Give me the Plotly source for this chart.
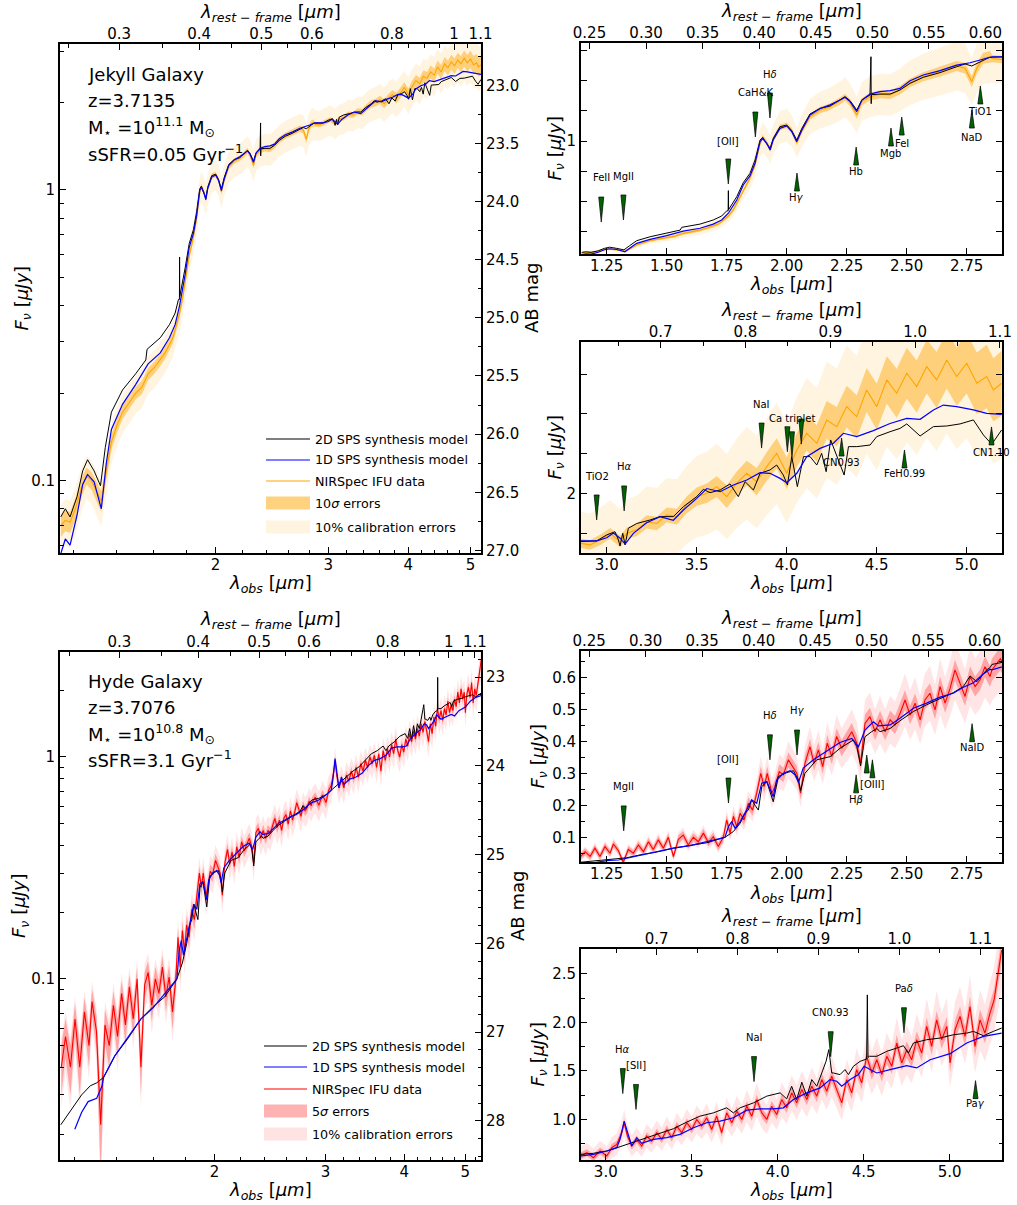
import math
import plotly.graph_objects as go

W, H = 1017, 1205
FONT = "DejaVu Sans"

# ------------------------------------------------------------------ data
JEK_Z = 3.7135
HYDE_Z = 3.7076

JEK_INFO = ["Jekyll Galaxy", "z=3.7135", "M<sub>⋆</sub> =10<sup>11.1</sup> M<sub>⊙</sub>",
            "sSFR=0.05 Gyr<sup>−1</sup>"]
HYDE_INFO = ["Hyde Galaxy", "z=3.7076", "M<sub>⋆</sub> =10<sup>10.8</sup> M<sub>⊙</sub>",
             "sSFR=3.1 Gyr<sup>−1</sup>"]

JEK_LEGEND = ["2D SPS synthesis model", "1D SPS synthesis model", "NIRSpec IFU data",
              "10<i>σ</i> errors", "10% calibration errors"]
HYDE_LEGEND = ["2D SPS synthesis model", "1D SPS synthesis model", "NIRSpec IFU data",
               "5<i>σ</i> errors", "10% calibration errors"]

# Jekyll: 2D SPS model (black)
JEK_2D_WL = [1.146, 1.165, 1.185, 1.215, 1.240, 1.262, 1.292, 1.322, 1.345, 1.375,
             1.431, 1.500, 1.556, 1.563, 1.639, 1.694, 1.729, 1.750, 1.756, 1.757,
             1.758, 1.792, 1.819, 1.847, 1.868, 1.889, 1.900, 1.917, 1.931, 1.944,
             1.972, 2.000, 2.021, 2.042, 2.063, 2.097, 2.139, 2.181, 2.222, 2.243,
             2.264, 2.292, 2.313, 2.347, 2.351, 2.352, 2.353, 2.389, 2.431, 2.472,
             2.514, 2.569, 2.639, 2.708, 2.743, 2.771, 2.792, 2.819, 2.845,
             2.856, 2.944, 3.000, 3.046, 3.065, 3.074, 3.089, 3.102, 3.120, 3.167,
             3.241, 3.296, 3.370, 3.426, 3.500, 3.537, 3.574, 3.630, 3.685, 3.731,
             3.769, 3.815, 3.852, 3.907, 3.944, 3.981, 4.004, 4.028, 4.059, 4.093,
             4.130, 4.167, 4.194, 4.219, 4.244, 4.278, 4.319, 4.343, 4.389, 4.463,
             4.500, 4.574, 4.630, 4.667, 4.741, 4.815, 4.889, 4.963, 5.037, 5.093,
             5.139, 5.194]
JEK_2D_F = [0.075, 0.080, 0.075, 0.088, 0.108, 0.118, 0.108, 0.096, 0.130, 0.172,
            0.205, 0.233, 0.260, 0.283, 0.310, 0.344, 0.377, 0.420, 0.420, 0.588,
            0.430, 0.538, 0.654, 0.731, 0.842, 1.008, 1.030, 0.975, 0.940, 1.022,
            1.119, 1.133, 1.086, 1.008, 1.105, 1.224, 1.271, 1.291, 1.340, 1.368,
            1.335, 1.257, 1.340, 1.382, 1.700, 1.310, 1.385, 1.390, 1.390, 1.424,
            1.479, 1.529, 1.568, 1.617, 1.640, 1.623, 1.645, 1.673, 1.695,
            1.696, 1.700, 1.738, 1.758, 1.706, 1.668, 1.748, 1.675, 1.780, 1.810,
            1.832, 1.853, 1.853, 1.916, 1.979, 2.025, 2.004, 2.021, 2.059, 1.979,
            2.073, 2.021, 2.126, 2.147, 2.178, 2.115, 2.052, 2.231, 2.042, 2.231,
            2.231, 2.178, 2.252, 2.136, 2.336, 2.231, 2.115, 2.294, 2.294, 2.304,
            2.357, 2.388, 2.409, 2.437, 2.361, 2.420, 2.424, 2.437, 2.462, 2.367,
            2.309, 2.399]

# Jekyll: 1D SPS model (blue)
JEK_1D_WL = [1.146, 1.165, 1.185, 1.215, 1.240, 1.262, 1.292, 1.326, 1.350, 1.375,
             1.431, 1.500, 1.569, 1.639, 1.694, 1.729, 1.757, 1.792, 1.819, 1.847,
             1.868, 1.889, 1.900, 1.917, 1.931, 1.944, 1.972, 2.000, 2.021, 2.042,
             2.063, 2.097, 2.139, 2.181, 2.222, 2.243, 2.264, 2.292, 2.313, 2.347,
             2.389, 2.431, 2.472, 2.514, 2.569, 2.639, 2.708, 2.764, 2.806, 2.847,
             2.856, 2.944, 3.000, 3.037, 3.074, 3.102, 3.148, 3.222, 3.296, 3.370,
             3.426, 3.500, 3.556, 3.630, 3.704, 3.778, 3.852, 3.907, 3.963, 4.000,
             4.056, 4.111, 4.185, 4.259, 4.315, 4.389, 4.481, 4.574, 4.667, 4.741,
             4.815, 4.870, 4.944, 5.037, 5.111, 5.194]
JEK_1D_F = [0.056, 0.063, 0.060, 0.076, 0.097, 0.105, 0.099, 0.080, 0.115, 0.150,
            0.183, 0.214, 0.252, 0.275, 0.310, 0.344, 0.400, 0.510, 0.635, 0.710,
            0.815, 0.995, 1.020, 0.980, 0.925, 1.010, 1.105, 1.125, 1.078, 0.995,
            1.090, 1.216, 1.270, 1.300, 1.340, 1.363, 1.327, 1.244, 1.340, 1.390,
            1.410, 1.418, 1.437, 1.500, 1.548, 1.584, 1.630, 1.650, 1.673, 1.695,
            1.700, 1.700, 1.720, 1.750, 1.717, 1.680, 1.748, 1.815, 1.853, 1.830,
            1.895, 1.968, 2.030, 2.010, 2.052, 2.084, 2.130, 2.126, 2.094, 2.067,
            2.126, 2.231, 2.283, 2.315, 2.378, 2.357, 2.395, 2.440, 2.472, 2.466,
            2.525, 2.556, 2.546, 2.525, 2.504, 2.497]

# Jekyll: NIRSpec IFU data (orange) and 10-sigma error
JEK_DATA_WL = [1.146, 1.165, 1.185, 1.208, 1.235, 1.257, 1.280, 1.300, 1.326, 1.350,
               1.375, 1.403, 1.431, 1.465, 1.500, 1.535, 1.569, 1.605, 1.639, 1.667,
               1.694, 1.715, 1.729, 1.757, 1.778, 1.792, 1.819, 1.847, 1.868, 1.889,
               1.900, 1.917, 1.931, 1.944, 1.972, 2.000, 2.021, 2.042, 2.063, 2.097,
               2.139, 2.181, 2.222, 2.243, 2.264, 2.292, 2.313, 2.347, 2.389, 2.431,
               2.472, 2.514, 2.569, 2.639, 2.708, 2.743, 2.771, 2.792, 2.819, 2.847,
               2.856, 2.907, 2.963, 3.019, 3.074, 3.111, 3.167, 3.222, 3.278, 3.333,
               3.389, 3.444, 3.500, 3.556, 3.611, 3.667, 3.722, 3.778, 3.833, 3.889,
               3.944, 4.000, 4.056, 4.111, 4.167, 4.222, 4.278, 4.333, 4.389, 4.444,
               4.500, 4.556, 4.611, 4.667, 4.722, 4.778, 4.833, 4.889, 4.944, 5.000,
               5.056, 5.111, 5.148, 5.194]
JEK_DATA_F = [0.070, 0.073, 0.072, 0.080, 0.095, 0.104, 0.100, 0.093, 0.085, 0.108,
              0.136, 0.155, 0.172, 0.185, 0.200, 0.210, 0.233, 0.245, 0.260, 0.275,
              0.294, 0.310, 0.330, 0.377, 0.430, 0.482, 0.593, 0.690, 0.800, 0.980,
              1.030, 0.986, 0.930, 1.014, 1.114, 1.130, 1.086, 0.986, 1.086, 1.202,
              1.257, 1.285, 1.332, 1.363, 1.318, 1.216, 1.327, 1.368, 1.388, 1.382,
              1.424, 1.484, 1.534, 1.576, 1.623, 1.604, 1.493, 1.604, 1.687, 1.700,
              1.685, 1.675, 1.706, 1.748, 1.696, 1.748, 1.770, 1.820, 1.810, 1.864,
              1.853, 1.927, 1.979, 2.000, 2.042, 1.979, 2.063, 2.126, 2.073, 2.168,
              2.252, 2.126, 2.273, 2.378, 2.315, 2.462, 2.420, 2.546, 2.483, 2.651,
              2.546, 2.714, 2.630, 2.756, 2.672, 2.798, 2.714, 2.840, 2.735, 2.819,
              2.693, 2.735, 2.651, 2.693]
JEK_ERR10 = [0.006, 0.006, 0.006, 0.007, 0.007, 0.007, 0.007, 0.007, 0.007, 0.008,
             0.008, 0.009, 0.009, 0.010, 0.010, 0.011, 0.011, 0.012, 0.012, 0.013,
             0.013, 0.014, 0.014, 0.015, 0.016, 0.017, 0.018, 0.019, 0.020, 0.021,
             0.022, 0.022, 0.022, 0.023, 0.024, 0.024, 0.024, 0.024, 0.025, 0.026,
             0.027, 0.028, 0.029, 0.030, 0.030, 0.031, 0.031, 0.032, 0.033, 0.034,
             0.035, 0.036, 0.038, 0.040, 0.042, 0.043, 0.045, 0.045, 0.046, 0.047,
             0.030, 0.031, 0.033, 0.034, 0.036, 0.037, 0.039, 0.041, 0.043, 0.046,
             0.050, 0.053, 0.058, 0.061, 0.066, 0.071, 0.075, 0.079, 0.086, 0.090,
             0.094, 0.101, 0.105, 0.109, 0.116, 0.120, 0.124, 0.131, 0.135, 0.139,
             0.146, 0.150, 0.154, 0.161, 0.165, 0.169, 0.176, 0.180, 0.184, 0.190,
             0.194, 0.200, 0.199, 0.205]

# Hyde: 2D SPS model (black)
HYDE_2D_WL = [1.140, 1.165, 1.190, 1.230, 1.270, 1.300, 1.333, 1.389, 1.458, 1.528,
              1.597, 1.667, 1.743, 1.778, 1.806, 1.826, 1.840, 1.854, 1.868, 1.882,
              1.896, 1.917, 1.944, 1.965, 2.000, 2.028, 2.049, 2.058, 2.076, 2.125,
              2.181, 2.222, 2.278, 2.292, 2.308, 2.326, 2.354, 2.375, 2.389, 2.431,
              2.472, 2.528, 2.583, 2.639, 2.694, 2.736, 2.764, 2.792, 2.833, 2.847,
              2.855, 2.928, 3.006, 3.083, 3.161, 3.238, 3.316, 3.393, 3.471, 3.548,
              3.626, 3.703, 3.742, 3.781, 3.859, 3.936, 4.014, 4.052, 4.081, 4.110,
              4.140, 4.169, 4.198, 4.227, 4.256, 4.281, 4.297, 4.314, 4.324, 4.362,
              4.391, 4.411, 4.440, 4.479, 4.517, 4.521, 4.525, 4.533, 4.576, 4.634,
              4.692, 4.731, 4.760, 4.789, 4.866, 4.944, 5.021, 5.099, 5.138, 5.196,
              5.254, 5.302]
HYDE_2D_F = [0.022, 0.024, 0.026, 0.030, 0.033, 0.034, 0.036, 0.045, 0.054, 0.066,
             0.075, 0.083, 0.100, 0.118, 0.144, 0.175, 0.185, 0.217, 0.200, 0.185,
             0.258, 0.274, 0.211, 0.290, 0.302, 0.308, 0.279, 0.246, 0.300, 0.342,
             0.352, 0.378, 0.404, 0.383, 0.323, 0.414, 0.430, 0.440, 0.430, 0.440,
             0.464, 0.493, 0.514, 0.534, 0.552, 0.571, 0.604, 0.586, 0.623, 0.630,
             0.640, 0.651, 0.675, 0.719, 0.767, 0.812, 0.863, 0.904, 0.973, 1.034,
             1.068, 1.120, 1.068, 1.120, 1.171, 1.240, 1.274, 1.212, 1.342, 1.205,
             1.384, 1.240, 1.411, 1.342, 1.479, 1.600, 1.720, 1.480, 1.479, 1.462,
             1.514, 1.462, 1.548, 1.599, 1.623, 2.284, 1.640, 1.651, 1.651, 1.702,
             1.736, 1.760, 1.685, 1.788, 1.822, 1.839, 1.873, 1.890, 1.908, 1.863,
             1.908, 1.942]

# Hyde: 1D SPS model (blue)
HYDE_1D_WL = [1.200, 1.230, 1.260, 1.300, 1.326, 1.333, 1.389, 1.458, 1.528, 1.597,
              1.667, 1.722, 1.743, 1.757, 1.771, 1.785, 1.806, 1.833, 1.854, 1.875,
              1.896, 1.917, 1.931, 1.944, 1.958, 1.986, 2.014, 2.035, 2.049, 2.069,
              2.111, 2.167, 2.222, 2.271, 2.299, 2.326, 2.361, 2.382, 2.431, 2.472,
              2.528, 2.583, 2.639, 2.694, 2.736, 2.778, 2.819, 2.847,
              2.855, 2.928, 3.006, 3.064, 3.083, 3.107, 3.126, 3.151, 3.180, 3.209,
              3.277, 3.355, 3.432, 3.510, 3.587, 3.665, 3.742, 3.820, 3.897, 3.975,
              4.033, 4.091, 4.169, 4.246, 4.304, 4.343, 4.372, 4.421, 4.469, 4.502,
              4.537, 4.576, 4.653, 4.750, 4.808, 4.886, 5.002, 5.099, 5.196, 5.302]
HYDE_1D_F = [0.021, 0.025, 0.028, 0.029, 0.033, 0.036, 0.045, 0.055, 0.066, 0.074,
             0.086, 0.097, 0.100, 0.133, 0.149, 0.128, 0.149, 0.185, 0.217, 0.206,
             0.269, 0.274, 0.248, 0.227, 0.279, 0.300, 0.308, 0.295, 0.271, 0.316,
             0.342, 0.368, 0.396, 0.409, 0.383, 0.435, 0.461, 0.448, 0.451, 0.472,
             0.503, 0.519, 0.538, 0.550, 0.569, 0.583, 0.610, 0.625,
             0.623, 0.640, 0.675, 0.709, 0.795, 0.983, 0.863, 0.726, 0.812, 0.753,
             0.795, 0.812, 0.846, 0.914, 0.966, 0.983, 1.017, 1.096, 1.110, 1.110,
             1.120, 1.205, 1.274, 1.325, 1.411, 1.394, 1.342, 1.411, 1.462, 1.548,
             1.514, 1.479, 1.514, 1.555, 1.531, 1.616, 1.678, 1.788, 1.856, 1.890]

# Hyde: NIRSpec IFU data (red) and 5-sigma error
HYDE_DATA_WL = [1.142, 1.160, 1.181, 1.201, 1.222, 1.243, 1.264, 1.278, 1.299, 1.319,
                1.340, 1.361, 1.382, 1.403, 1.424, 1.444, 1.465, 1.486, 1.507, 1.528,
                1.549, 1.569, 1.590, 1.611, 1.632, 1.653, 1.674, 1.694, 1.715, 1.736,
                1.750, 1.764, 1.778, 1.792, 1.806, 1.822, 1.840, 1.858, 1.875, 1.892,
                1.906, 1.919, 1.938, 1.951, 1.969, 1.986, 2.007, 2.025, 2.042, 2.058,
                2.076, 2.097, 2.114, 2.132, 2.150, 2.169, 2.188, 2.208, 2.229, 2.250,
                2.271, 2.292, 2.308, 2.326, 2.347, 2.368, 2.389, 2.410, 2.431, 2.451,
                2.472, 2.493, 2.514, 2.535, 2.556, 2.576, 2.597, 2.618, 2.639, 2.660,
                2.681, 2.701, 2.722, 2.743, 2.764, 2.785, 2.806, 2.826, 2.847,
                2.855, 2.890, 2.928, 2.967, 3.006, 3.035, 3.064, 3.093, 3.107, 3.126,
                3.151, 3.180, 3.209, 3.238, 3.267, 3.297, 3.326, 3.355, 3.384, 3.413,
                3.442, 3.471, 3.500, 3.529, 3.558, 3.587, 3.616, 3.645, 3.674, 3.703,
                3.733, 3.762, 3.791, 3.820, 3.849, 3.878, 3.907, 3.936, 3.965, 3.994,
                4.023, 4.052, 4.081, 4.110, 4.140, 4.169, 4.198, 4.227, 4.256, 4.285,
                4.314, 4.343, 4.372, 4.401, 4.430, 4.459, 4.488, 4.517, 4.547, 4.576,
                4.605, 4.634, 4.663, 4.692, 4.721, 4.750, 4.779, 4.808, 4.837, 4.866,
                4.895, 4.924, 4.953, 4.983, 5.002, 5.031, 5.060, 5.089, 5.118, 5.147,
                5.176, 5.205, 5.234, 5.258, 5.277, 5.302]
HYDE_DATA_F = [0.040, 0.055, 0.040, 0.066, 0.040, 0.071, 0.050, 0.079, 0.058, 0.022,
               0.062, 0.050, 0.076, 0.055, 0.086, 0.062, 0.092, 0.066, 0.100, 0.040,
               0.094, 0.107, 0.076, 0.100, 0.086, 0.113, 0.083, 0.102, 0.071, 0.100,
               0.154, 0.113, 0.165, 0.133, 0.175, 0.154, 0.206, 0.185, 0.238, 0.300,
               0.258, 0.300, 0.238, 0.258, 0.305, 0.295, 0.342, 0.321, 0.300, 0.238,
               0.331, 0.383, 0.331, 0.373, 0.321, 0.394, 0.352, 0.415, 0.378, 0.404,
               0.430, 0.394, 0.331, 0.456, 0.477, 0.430, 0.467, 0.430, 0.467, 0.451,
               0.487, 0.529, 0.482, 0.519, 0.467, 0.529, 0.550, 0.498, 0.571, 0.519,
               0.566, 0.623, 0.581, 0.540, 0.602, 0.571, 0.592, 0.633, 0.602,
               0.623, 0.658, 0.606, 0.675, 0.623, 0.709, 0.743, 0.863, 0.966, 0.829,
               0.726, 0.795, 0.726, 0.829, 0.777, 0.863, 0.795, 0.897, 0.812, 0.932,
               0.863, 0.966, 0.897, 1.000, 0.932, 1.017, 0.897, 1.034, 0.863, 1.068,
               0.966, 1.086, 1.000, 1.137, 1.034, 1.205, 1.068, 1.000, 1.137, 1.051,
               1.205, 1.120, 1.274, 1.171, 1.308, 1.205, 1.342, 1.240, 1.411, 1.291,
               1.445, 1.308, 1.171, 1.411, 1.274, 1.514, 1.377, 1.651, 1.479, 1.616,
               1.462, 1.651, 1.548, 1.788, 1.582, 1.719, 1.616, 1.822, 1.685, 1.959,
               1.753, 2.027, 1.822, 1.959, 1.582, 1.925, 2.062, 1.856, 2.164, 1.753,
               2.027, 1.890, 2.096, 2.233, 2.438, 2.747]
HYDE_ERR5 = [0.010, 0.011, 0.010, 0.011, 0.010, 0.011, 0.010, 0.011, 0.010, 0.009,
             0.011, 0.010, 0.012, 0.011, 0.012, 0.011, 0.012, 0.011, 0.013, 0.010,
             0.013, 0.013, 0.012, 0.013, 0.012, 0.014, 0.012, 0.013, 0.012, 0.013,
             0.016, 0.015, 0.017, 0.016, 0.018, 0.017, 0.019, 0.018, 0.020, 0.022,
             0.021, 0.022, 0.020, 0.021, 0.023, 0.022, 0.024, 0.023, 0.022, 0.020,
             0.023, 0.025, 0.023, 0.025, 0.023, 0.026, 0.024, 0.026, 0.025, 0.026,
             0.027, 0.026, 0.024, 0.028, 0.028, 0.027, 0.028, 0.027, 0.028, 0.028,
             0.029, 0.030, 0.029, 0.030, 0.029, 0.030, 0.031, 0.029, 0.031, 0.030,
             0.031, 0.032, 0.031, 0.030, 0.032, 0.031, 0.032, 0.033, 0.032,
             0.035, 0.036, 0.035, 0.037, 0.036, 0.038, 0.038, 0.040, 0.042, 0.040,
             0.038, 0.039, 0.038, 0.040, 0.039, 0.041, 0.040, 0.042, 0.041, 0.043,
             0.042, 0.044, 0.043, 0.045, 0.044, 0.046, 0.045, 0.047, 0.046, 0.048,
             0.047, 0.049, 0.048, 0.051, 0.050, 0.053, 0.051, 0.050, 0.054, 0.052,
             0.056, 0.054, 0.058, 0.056, 0.060, 0.058, 0.062, 0.060, 0.065, 0.062,
             0.067, 0.064, 0.062, 0.068, 0.066, 0.071, 0.068, 0.075, 0.071, 0.076,
             0.073, 0.078, 0.076, 0.082, 0.078, 0.084, 0.081, 0.087, 0.084, 0.091,
             0.088, 0.094, 0.090, 0.096, 0.092, 0.098, 0.102, 0.099, 0.105, 0.101,
             0.106, 0.104, 0.110, 0.115, 0.122, 0.130]

# spectral feature markers (rest-frame wavelength in micron)
JEK_B_REST = [0.2604, 0.2800, 0.3727, 0.3966, 0.4095, 0.4334, 0.4857, 0.5165, 0.5260, 0.5880, 0.5955]
JEK_B_NAME = ["FeII", "MgII", "[OII]", "CaH&K", "H<i>δ</i>", "H<i>γ</i>", "Hb", "Mgb", "FeI", "NaD", "TiO1"]
JEK_B_TIP = [0.327, 0.344, 0.643, 1.033, 1.191, 0.734, 0.950, 1.108, 1.199, 1.257, 1.457]
JEK_B_LABY = [0.693, 0.709, 1.000, 1.399, 1.556, 0.527, 0.743, 0.900, 0.983, 1.025, 1.249]
JEK_B_DIR = ["down", "down", "down", "down", "down", "up", "up", "up", "up", "up", "up"]

JEK_C_REST = [0.6246, 0.6570, 0.8190, 0.8494, 0.8548, 0.8658, 0.9133, 0.9874, 1.0900]
JEK_C_NAME = ["TiO2", "H<i>α</i>", "NaI", "", "Ca triplet", "", "CN0.93", "FeH0.99", "CN1.10"]
JEK_C_TIP = [1.832, 1.889, 2.285, 2.262, 2.230, 2.310, 2.348, 2.273, 2.418]
JEK_C_LABY = [2.109, 2.172, 2.562, 0.0, 2.474, 0.0, 2.191, 2.122, 2.260]
JEK_C_DIR = ["down", "down", "down", "down", "down", "down", "up", "up", "up"]

HYDE_E_REST = [0.2806, 0.3733, 0.4100, 0.4340, 0.4863, 0.4957, 0.5007, 0.5889]
HYDE_E_NAME = ["MgII", "[OII]", "H<i>δ</i>", "H<i>γ</i>", "H<i>β</i>", "", "[OIII]", "NaID"]
HYDE_E_TIP = [0.120, 0.207, 0.342, 0.357, 0.295, 0.357, 0.342, 0.455]
HYDE_E_LABY = [0.258, 0.342, 0.479, 0.495, 0.217, 0.0, 0.264, 0.380]
HYDE_E_DIR = ["down", "down", "down", "down", "up", "up", "up", "up"]

HYDE_F_REST = [0.6583, 0.6746, 0.8204, 0.9151, 1.0056, 1.0940]
HYDE_F_NAME = ["H<i>α</i>", "[SII]", "NaI", "CN0.93", "Pa<i>δ</i>", "Pa<i>γ</i>"]
HYDE_F_TIP = [1.267, 1.103, 1.390, 1.647, 1.894, 1.400]
HYDE_F_LABY = [1.719, 1.555, 1.843, 2.100, 2.346, 1.164]
HYDE_F_DIR = ["down", "down", "down", "down", "down", "up"]

# tick labels
LOG_TOP_VALS = [0.3, 0.4, 0.5, 0.6, 0.8, 1.0, 1.1]
LOG_TOP_TEXT = ["0.3", "0.4", "0.5", "0.6", "0.8", "1", "1.1"]
LOG_TOP_MINOR = [0.25, 0.35, 0.45, 0.55, 0.65, 0.7, 0.75, 0.85, 0.9, 0.95, 1.05]
LOG_BOT_VALS = [2, 3, 4, 5]
LOG_BOT_MINOR = [1.2, 1.4, 1.6, 1.8, 2.2, 2.4, 2.6, 2.8, 3.2, 3.4, 3.6, 3.8,
                 4.2, 4.4, 4.6, 4.8, 5.2]
BLUE_BOT_VALS = [1.25, 1.50, 1.75, 2.00, 2.25, 2.50, 2.75]
BLUE_TOP_VALS = [0.25, 0.30, 0.35, 0.40, 0.45, 0.50, 0.55, 0.60]
RED_BOT_VALS = [3.0, 3.5, 4.0, 4.5, 5.0]
RED_TOP_VALS = [0.7, 0.8, 0.9, 1.0, 1.1]
RED_TOP_MINOR = [0.65, 0.75, 0.85, 0.95, 1.05]

# ------------------------------------------------------------------ layout geometry (pixels)
PANELS = {
    "A": dict(box=(60, 44, 481, 553), xb="x", yl="y", xt="x2", yr="y2", log=True,
              xr=(0.058, 0.7155), yr_=(-1.249, 0.502), z=JEK_Z),
    "B": dict(box=(581, 43, 1002, 254), xb="x3", yl="y3", xt="x4", log=False,
              xr=(1.143, 2.897), yr_=(0.0615, 1.814), z=JEK_Z),
    "C": dict(box=(581, 342, 1002, 553), xb="x5", yl="y4", xt="x6", log=False,
              xr=(2.857, 5.196), yr_=(1.624, 2.953), z=JEK_Z),
    "D": dict(box=(60, 652, 481, 1160), xb="x7", yl="y5", xt="x8", yr="y6", log=True,
              xr=(0.0557, 0.724), yr_=(-1.816, 0.473), z=HYDE_Z),
    "E": dict(box=(581, 651, 1002, 862), xb="x9", yl="y7", xt="x10", log=False,
              xr=(1.143, 2.897), yr_=(0.0228, 0.682), z=HYDE_Z),
    "F": dict(box=(581, 949, 1002, 1160), xb="x11", yl="y8", xt="x12", log=False,
              xr=(2.856, 5.304), yr_=(0.582, 2.757), z=HYDE_Z),
}


def lk(axid):
    return ("xaxis" if axid[0] == "x" else "yaxis") + axid[1:]


def px(xp):
    return xp / W


def py(yp):
    return 1 - yp / H


fig = go.Figure()
layout = dict(width=W, height=H, margin=dict(l=0, r=0, t=0, b=0, pad=0, autoexpand=False),
              autosize=False, template="none",
              paper_bgcolor="white", plot_bgcolor="white", showlegend=False,
              font=dict(family=FONT, color="black"))
annotations = []
shapes = []

TICKFONT = dict(family=FONT, size=15, color="black")


def base_axis(**kw):
    d = dict(showline=True, linecolor="black", linewidth=2, ticks="inside", ticklen=6,
             tickwidth=1.2, tickcolor="black", tickfont=TICKFONT, showgrid=False,
             zeroline=False, fixedrange=True, automargin=False, layer="above traces")
    d.update(kw)
    return d


def minor(vals, ln=3.5):
    return dict(tickmode="array", tickvals=vals, ticks="inside", ticklen=ln,
                tickwidth=1.0, tickcolor="black", showgrid=False)


XSO = -3  # pull x tick labels a little towards the axis line

for key, p in PANELS.items():
    x0, y0, x1, y1 = p["box"]
    xd = [px(x0), px(x1)]
    yd = [py(y1), py(y0)]
    z1 = 1 + p["z"]
    if p["log"]:
        lz = math.log10(z1)
        layout[lk(p["xb"])] = base_axis(domain=xd, anchor=p["yl"], type="log",
                                        range=list(p["xr"]), tickmode="array",
                                        tickvals=LOG_BOT_VALS, ticktext=[str(v) for v in LOG_BOT_VALS],
                                        minor=minor(LOG_BOT_MINOR), ticklabelstandoff=XSO)
        layout[lk(p["xt"])] = base_axis(overlaying=p["xb"], anchor=p["yl"], side="top", type="log",
                                        range=[p["xr"][0] - lz, p["xr"][1] - lz], tickmode="array",
                                        tickvals=LOG_TOP_VALS, ticktext=LOG_TOP_TEXT,
                                        minor=minor(LOG_TOP_MINOR), ticklabelstandoff=XSO)
        ymin_minor = [0.02, 0.03, 0.04, 0.05, 0.06, 0.07, 0.08, 0.09, 0.2, 0.3, 0.4, 0.5,
                      0.6, 0.7, 0.8, 0.9, 2, 3]
        layout[lk(p["yl"])] = base_axis(domain=yd, anchor=p["xb"], type="log", range=list(p["yr_"]),
                                        tickmode="array", tickvals=[0.1, 1], ticktext=["0.1", "1"],
                                        minor=minor(ymin_minor))
        m_top = 23.9 - 2.5 * p["yr_"][1]
        m_bot = 23.9 - 2.5 * p["yr_"][0]
        if key == "A":
            mv = [23.0 + 0.5 * i for i in range(9)]
            mt = ["%.1f" % v for v in mv]
            mm = [22.75 + 0.5 * i for i in range(9)]
        else:
            mv = [23, 24, 25, 26, 27, 28]
            mt = [str(v) for v in mv]
            mm = [22.8, 23.2, 23.4, 23.6, 23.8, 24.2, 24.4, 24.6, 24.8, 25.2, 25.4, 25.6, 25.8,
                  26.2, 26.4, 26.6, 26.8, 27.2, 27.4, 27.6, 27.8, 28.2, 28.4]
        layout[lk(p["yr"])] = base_axis(overlaying=p["yl"], anchor=p["xb"], side="right",
                                        range=[m_bot, m_top], tickmode="array", tickvals=mv,
                                        ticktext=mt, minor=minor(mm))
        # invisible anchors so overlay axes are drawn
        fig.add_trace(go.Scatter(x=[10 ** (p["xr"][0] - lz), 10 ** (p["xr"][1] - lz)], y=[1, 1],
                                 xaxis=p["xt"], yaxis=p["yl"], mode="markers",
                                 marker=dict(opacity=0), hoverinfo="skip"))
        fig.add_trace(go.Scatter(x=[2, 3], y=[25, 25], xaxis=p["xb"], yaxis=p["yr"], mode="markers",
                                 marker=dict(opacity=0), hoverinfo="skip"))
    else:
        if key in ("B", "E"):
            bv, bt = BLUE_BOT_VALS, ["%.2f" % v for v in BLUE_BOT_VALS]
            tv, tt, tm = BLUE_TOP_VALS, ["%.2f" % v for v in BLUE_TOP_VALS], None
        else:
            bv, bt = RED_BOT_VALS, ["%.1f" % v for v in RED_BOT_VALS]
            tv, tt, tm = RED_TOP_VALS, ["%.1f" % v for v in RED_TOP_VALS], RED_TOP_MINOR
        layout[lk(p["xb"])] = base_axis(domain=xd, anchor=p["yl"], range=list(p["xr"]),
                                        tickmode="array", tickvals=bv, ticktext=bt,
                                        ticklabelstandoff=XSO)
        topax = base_axis(overlaying=p["xb"], anchor=p["yl"], side="top",
                          range=[p["xr"][0] / z1, p["xr"][1] / z1], tickmode="array",
                          tickvals=tv, ticktext=tt, ticklabelstandoff=XSO)
        if tm:
            topax["minor"] = minor(tm)
        layout[lk(p["xt"])] = topax
        if key == "B":
            yv = [0.25, 0.5, 0.75, 1.0, 1.25, 1.5, 1.75]
            yt = [" ", " ", " ", "1", " ", " ", " "]
            ym = None
        elif key == "C":
            yv = [1.75, 2.0, 2.25, 2.5, 2.75]
            yt = [" ", "2", " ", " ", " "]
            ym = None
        elif key == "E":
            yv = [0.1, 0.2, 0.3, 0.4, 0.5, 0.6]
            yt = ["0.1", "0.2", "0.3", "0.4", "0.5", "0.6"]
            ym = [0.05, 0.15, 0.25, 0.35, 0.45, 0.55, 0.65]
        else:
            yv = [1.0, 1.5, 2.0, 2.5]
            yt = ["1.0", "1.5", "2.0", "2.5"]
            ym = [0.75, 1.25, 1.75, 2.25]
        yax = base_axis(domain=yd, anchor=p["xb"], range=list(p["yr_"]), tickmode="array",
                        tickvals=yv, ticktext=yt, mirror="ticks")
        if ym:
            yax["minor"] = minor(ym)
        layout[lk(p["yl"])] = yax
        fig.add_trace(go.Scatter(x=[p["xr"][0] / z1, p["xr"][1] / z1],
                                 y=[p["yr_"][0], p["yr_"][0]], xaxis=p["xt"], yaxis=p["yl"],
                                 mode="markers", marker=dict(opacity=0), hoverinfo="skip"))


# ------------------------------------------------------------------ spectra
def add_spectra(panel, d_wl, d_f, err, m2_wl, m2_f, m1_wl, m1_f, col_line, col_dark, col_light):
    p = PANELS[panel]
    up_l = [f + e + 0.1 * f for f, e in zip(d_f, err)]
    lo_l = [max(f - e - 0.1 * f, 1e-3) for f, e in zip(d_f, err)]
    up_d = [f + e for f, e in zip(d_f, err)]
    lo_d = [max(f - e, 1e-3) for f, e in zip(d_f, err)]
    kw = dict(xaxis=p["xb"], yaxis=p["yl"], hoverinfo="skip")
    fig.add_trace(go.Scatter(x=d_wl + d_wl[::-1], y=up_l + lo_l[::-1], fill="toself",
                             fillcolor=col_light, line=dict(width=0), mode="lines", **kw))
    fig.add_trace(go.Scatter(x=d_wl + d_wl[::-1], y=up_d + lo_d[::-1], fill="toself",
                             fillcolor=col_dark, line=dict(width=0), mode="lines", **kw))
    fig.add_trace(go.Scatter(x=d_wl, y=d_f, mode="lines", line=dict(color=col_line, width=1.1), **kw))
    fig.add_trace(go.Scatter(x=m2_wl, y=m2_f, mode="lines", line=dict(color="black", width=1.0), **kw))
    fig.add_trace(go.Scatter(x=m1_wl, y=m1_f, mode="lines", line=dict(color="blue", width=1.2), **kw))


JEK_COLS = ("orange", "rgba(255,165,0,0.45)", "rgba(255,165,0,0.12)")
HYDE_COLS = ("red", "rgba(255,0,0,0.28)", "rgba(255,0,0,0.10)")
for pn in ("A", "B", "C"):
    add_spectra(pn, JEK_DATA_WL, JEK_DATA_F, JEK_ERR10, JEK_2D_WL, JEK_2D_F, JEK_1D_WL, JEK_1D_F,
                *JEK_COLS)
for pn in ("D", "E", "F"):
    add_spectra(pn, HYDE_DATA_WL, HYDE_DATA_F, HYDE_ERR5, HYDE_2D_WL, HYDE_2D_F, HYDE_1D_WL,
                HYDE_1D_F, *HYDE_COLS)


# ------------------------------------------------------------------ line markers
def add_lines(panel, rest, names, tips, laby, dirs):
    p = PANELS[panel]
    x0, y0, x1, y1 = p["box"]
    ypx = (y1 - y0) / (p["yr_"][1] - p["yr_"][0])
    xpx = (x1 - x0) / (p["xr"][1] - p["xr"][0])
    z1 = 1 + p["z"]
    xs, ys = [], []
    hw = 2.5 / xpx
    for lr, nm, tp, ly, dr in zip(rest, names, tips, laby, dirs):
        lo = lr * z1
        base = tp + 25 / ypx if dr == "down" else tp - 18 / ypx
        xs += [lo - hw, lo + hw, lo, lo - hw, None]
        ys += [base, base, tp, base, None]
        if nm:
            annotations.append(dict(x=lo, y=ly, xref=p["xb"], yref=p["yl"], text=nm,
                                    showarrow=False, xanchor="center", yanchor="middle",
                                    font=dict(family=FONT, size=10, color="black")))
    fig.add_trace(go.Scatter(x=xs, y=ys, xaxis=p["xb"], yaxis=p["yl"], mode="lines",
                             fill="toself", fillcolor="#006400",
                             line=dict(color="black", width=0.7), hoverinfo="skip"))


add_lines("B", JEK_B_REST, JEK_B_NAME, JEK_B_TIP, JEK_B_LABY, JEK_B_DIR)
add_lines("C", JEK_C_REST, JEK_C_NAME, JEK_C_TIP, JEK_C_LABY, JEK_C_DIR)
add_lines("E", HYDE_E_REST, HYDE_E_NAME, HYDE_E_TIP, HYDE_E_LABY, HYDE_E_DIR)
add_lines("F", HYDE_F_REST, HYDE_F_NAME, HYDE_F_TIP, HYDE_F_LABY, HYDE_F_DIR)


# ------------------------------------------------------------------ texts
def ann(xp, yp, text, size=18, angle=0, xanchor="center"):
    annotations.append(dict(x=px(xp), y=py(yp), xref="paper", yref="paper", text=text,
                            showarrow=False, xanchor=xanchor, yanchor="middle", textangle=angle,
                            font=dict(family=FONT, size=size, color="black")))


LAM_OBS = "<i>λ<sub>obs</sub></i> [<i>μm</i>]"
LAM_REST = "<i>λ<sub>rest − frame</sub></i> [<i>μm</i>]"
FNU = "<i>F<sub>ν</sub></i> [<i>μJy</i>]"

TITLE_POS = {  # panel: (top title y, bottom title y, ylabel x)
    "A": (13, 584, 22), "B": (12, 285, 555), "C": (311, 584, 555),
    "D": (620, 1191, 20), "E": (619, 894, 538), "F": (917, 1191, 538),
}
for key, (ty, by, yx) in TITLE_POS.items():
    x0, y0, x1, y1 = PANELS[key]["box"]
    cx = (x0 + x1) / 2
    ann(cx, ty, LAM_REST)
    ann(cx, by, LAM_OBS)
    ann(yx, (y0 + y1) / 2, FNU, angle=-90)
ann(531, 298, "AB mag", angle=-90)
ann(517, 906, "AB mag", angle=-90)

for i, t in enumerate(JEK_INFO):
    ann(86, [74, 100, 127, 153][i], t, xanchor="left")
for i, t in enumerate(HYDE_INFO):
    ann(86, [681, 707, 734, 759][i], t, xanchor="left")


# manual legends
def legend(rows, x0, x1, labels, cols):
    kinds = ["line", "line", "line", "patch", "patch"]
    for r, lab, c, k in zip(rows, labels, cols, kinds):
        if k == "line":
            shapes.append(dict(type="line", xref="paper", yref="paper", x0=px(x0), x1=px(x1),
                               y0=py(r), y1=py(r), line=dict(color=c, width=1.2)))
        else:
            shapes.append(dict(type="rect", xref="paper", yref="paper", x0=px(x0), x1=px(x1),
                               y0=py(r - 6.5), y1=py(r + 6.5), fillcolor=c, line=dict(width=0)))
        ann(x1 + 3, r, lab, size=12.7, xanchor="left")


legend([439, 460, 481, 503, 527], 266, 310, JEK_LEGEND,
       ["black", "blue", "orange", "rgba(255,165,0,0.5)", "rgba(255,165,0,0.12)"])
legend([1046, 1067, 1089, 1111, 1134], 264, 307, HYDE_LEGEND,
       ["black", "blue", "red", "rgba(255,0,0,0.3)", "rgba(255,0,0,0.11)"])

layout["annotations"] = annotations
layout["shapes"] = shapes
fig.update_layout(**layout)
fig.update_traces(showlegend=False)
fig.write_html("out.html", config={"displayModeBar": False},
               post_script="document.body.style.margin='0px';document.body.style.padding='0px';")
